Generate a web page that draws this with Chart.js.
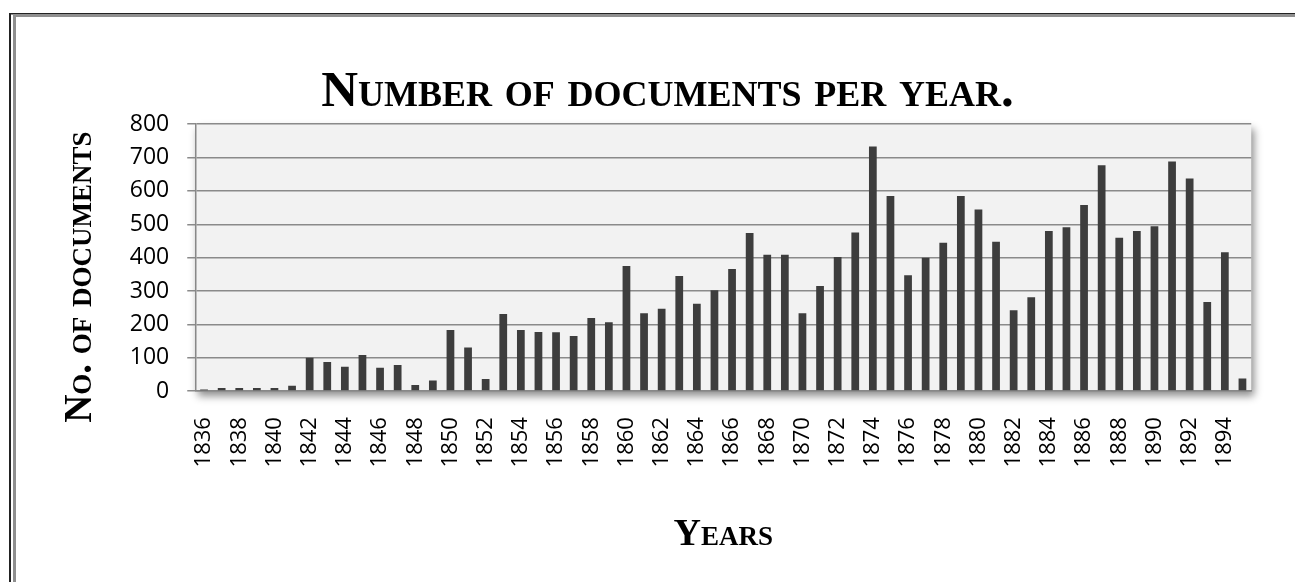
<!DOCTYPE html>
<html>
<head>
<meta charset="utf-8">
<script src="https://cdn.jsdelivr.net/npm/chart.js@4.4.1/dist/chart.umd.min.js"></script>
<style>
  html, body { margin: 0; padding: 0; background: #fff; }
  #wrap { width: 1295px; height: 582px; position: relative; }
</style>
</head>
<body>
<div id="wrap"><canvas id="docsChart" width="1295" height="582"></canvas></div>
<script>
// years and number of documents
const years = [];
for (let y = 1836; y <= 1895; y++) years.push(String(y));

const documents = [
  5, 9, 9, 9, 9, 16, 100, 87, 73, 108,
  70, 78, 18, 32, 183, 131, 36, 231, 183, 177,
  176, 165, 219, 206, 375, 233, 247, 345, 262, 302,
  366, 474, 409, 409, 233, 315, 402, 475, 733, 585,
  347, 400, 445, 585, 544, 448, 242, 281, 480, 491,
  558, 677, 460, 480, 494, 688, 637, 267, 416, 38
];

const yTicks = [0, 100, 200, 300, 400, 500, 600, 700, 800];

// frame round the picture + grey plot area with a shadow
const decor = {
  id: "decor",
  beforeDraw(chart) {
    const ctx = chart.ctx;
    const a = chart.chartArea;
    ctx.save();
    ctx.fillStyle = "#fff";
    ctx.fillRect(0, 0, chart.width, chart.height);
    ctx.fillStyle = "#222";
    ctx.fillRect(9, 13, 2, chart.height);
    ctx.fillRect(9, 13, chart.width, 1.5);
    ctx.fillStyle = "#8f8f8f";
    ctx.fillRect(13, 14.5, 3, chart.height);
    ctx.fillRect(13, 14.5, chart.width, 2.5);
    ctx.shadowColor = "rgba(0,0,0,0.45)";
    ctx.shadowBlur = 8;
    ctx.shadowOffsetX = 3;
    ctx.shadowOffsetY = 5;
    ctx.fillStyle = "#f2f2f2";
    ctx.fillRect(a.left, a.top, a.right - a.left, a.bottom - a.top);
    ctx.restore();
  }
};

const ctx = document.getElementById("docsChart").getContext("2d");
const serif = "'Liberation Serif', 'Times New Roman', serif";

new Chart(ctx, {
  type: "bar",
  data: {
    labels: years,
    datasets: [{
      label: "Documents",
      data: documents,
      backgroundColor: "#3d3d3d",
      barPercentage: 0.44,
      categoryPercentage: 1.0
    }]
  },
  options: {
    responsive: false,
    animation: false,
    layout: { padding: { top: 22, left: 58, right: 18, bottom: 24 } },
    plugins: {
      legend: { display: false },
      tooltip: { enabled: false },
      title: {
        display: true,
        text: "Number of documents per year.",
        color: "#000",
        font: { family: serif, size: 51, weight: "small-caps bold" },
        padding: { top: 40, bottom: 1 }
      }
    },
    scales: {
      x: {
        grid: { display: false, drawTicks: false },
        border: { color: "#888", width: 1.5 },
        ticks: {
          autoSkip: false,
          minRotation: 90,
          maxRotation: 90,
          padding: 26,
          color: "#000",
          font: { family: "'Open Sans'", size: 22 },
          callback: function (val, i) { return i % 2 === 0 ? years[i] : ""; }
        },
        title: {
          display: true,
          text: "Years",
          color: "#000",
          font: { family: serif, size: 38, weight: "small-caps bold" },
          padding: { top: 19, bottom: 0 }
        }
      },
      y: {
        min: 0,
        max: 800,
        afterBuildTicks: function (axis) { axis.ticks = yTicks.map(v => ({ value: v })); },
        grid: { color: "#8a8a8a", lineWidth: 1.5, tickLength: 8 },
        border: { color: "#888", width: 1.5 },
        ticks: {
          padding: 18,
          color: "#000",
          font: { family: "'Open Sans'", size: 23 }
        },
        title: {
          display: true,
          text: "No. of documents\u00a0\u00a0\u00a0\u00a0",
          color: "#000",
          font: { family: serif, size: 39, weight: "small-caps bold" },
          padding: { top: 0, bottom: 7 }
        }
      }
    }
  },
  plugins: [decor]
});
</script>
</body>
</html>
